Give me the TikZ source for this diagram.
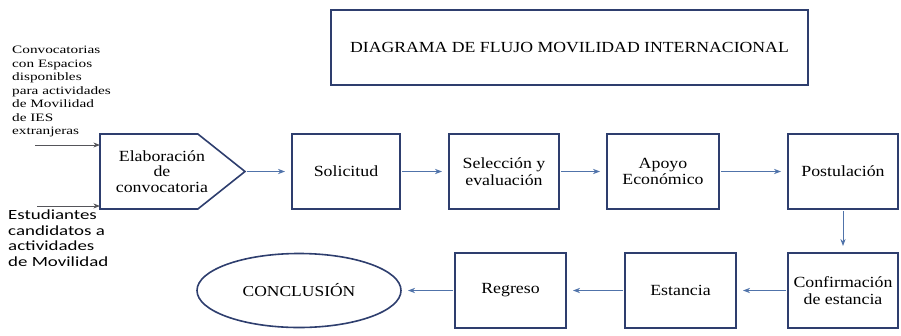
\documentclass[tikz,border=0pt]{standalone}
\usepackage{fontspec}
\usepackage{tikz}
\usepackage{xcolor}
\usetikzlibrary{arrows.meta,positioning,shapes.geometric,shapes.symbols}
\setmainfont[FakeStretch=1.15]{Liberation Serif}
\newfontfamily\notefont[FakeStretch=1.35]{Liberation Serif}
\newfontfamily\studfont[FakeStretch=1.35]{Carlito}
\definecolor{boxblue}{RGB}{46,62,110}
\definecolor{flowblue}{RGB}{80,115,170}
\definecolor{ingray}{RGB}{85,85,90}

\begin{document}
\begin{tikzpicture}[x=1pt,y=-1pt,>=Stealth,
          block/.style={draw=boxblue,line width=1.6pt,fill=white,outer sep=0pt,
                        minimum width=110pt,minimum height=75pt,align=center,
                        font=\fontsize{15.5}{16.5}\selectfont},
          flow/.style={->,draw=flowblue,line width=0.9pt,
                       shorten >=7pt,shorten <=2pt},
          input/.style={->,draw=ingray,line width=0.8pt}]
        \useasboundingbox (0,0) rectangle (901,335);
        \node[block,minimum width=477pt,font=\fontsize{15.4}{17}\selectfont]
          (title) at (569.5,47.5) {DIAGRAMA DE FLUJO MOVILIDAD INTERNACIONAL};
        \node[block,signal,signal to=east,signal pointer angle=77,
              minimum width=145pt,anchor=west,
              label={[align=center,font=\fontsize{15.5}{15.5}\selectfont,
                      xshift=13pt]center:Elaboración\\de\\convocatoria}]
          (elab) at (100,171.5) {};
        \node[block,minimum width=108pt,right=47pt of elab] (sol) {Solicitud};
        \node[block,right=49pt of sol] (sel) {Selección y\\evaluación};
        \node[block,minimum width=112pt,right=48pt of sel] (apoyo) {Apoyo\\Económico};
        \node[block,right=69pt of apoyo] (post) {Postulación};
        \node[block,below=44pt of post] (conf) {Confirmación\\de estancia};
        \node[block,minimum width=111pt,left=52pt of conf] (est) {Estancia};
        \node[block,minimum width=111pt,left=59pt of est] (reg) {Regreso};
        \node[block,ellipse,minimum width=204pt,minimum height=74pt,
              font=\fontsize{15.2}{16}\selectfont,left=54pt of reg] (concl) {CONCLUSIÓN};
        \node[anchor=north west,align=left,inner sep=0pt,
              font=\notefont\fontsize{11.3}{13.5}\selectfont] (conv) at (12,46)
          {Convocatorias\\con Espacios\\disponibles\\para actividades\\de Movilidad\\de IES\\extranjeras};
        \node[anchor=north west,align=left,inner sep=0pt,
              font=\studfont\fontsize{14}{15.5}\selectfont] (stud) at (8,210)
          {Estudiantes\\candidatos a\\actividades\\de Movilidad};
        \coordinate (convin) at (35,145);
        \coordinate (studin) at (37,206);
        \draw[input] (convin) -- (convin -| elab.west);
        \draw[input] (studin) -- (studin -| elab.west);
        \draw[flow] (elab.east) -- (sol);
        \draw[flow] (sol) -- (sel);
        \draw[flow] (sel) -- (apoyo);
        \draw[flow] (apoyo) -- (post);
        \draw[flow] (post) -- (conf);
        \draw[flow] (conf) -- (est);
        \draw[flow] (est) -- (reg);
        \draw[flow] (reg) -- (concl);
      \end{tikzpicture}
\end{document}
